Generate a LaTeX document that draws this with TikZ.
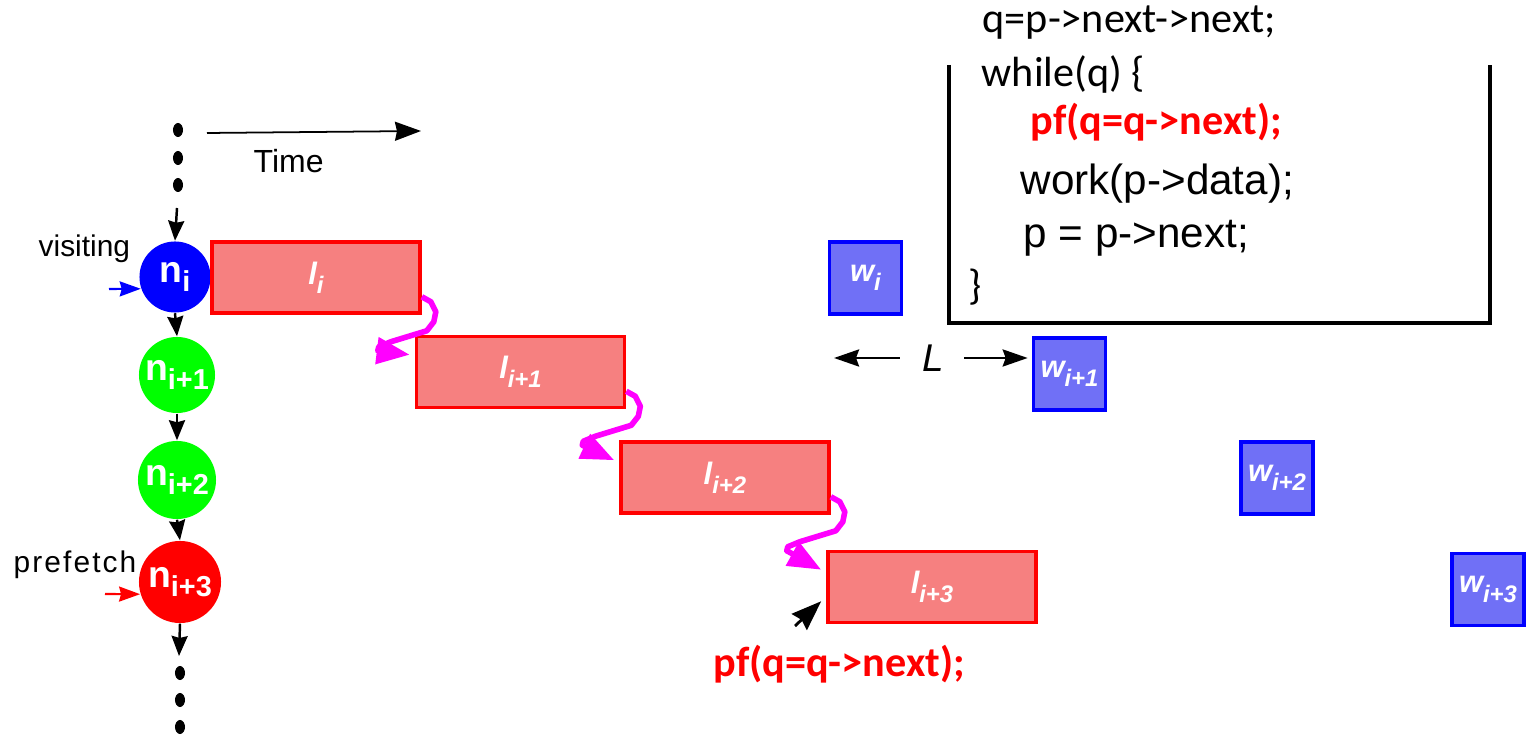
\documentclass[tikz,border=0pt]{standalone}
\usepackage{fontspec}
\setmainfont{Liberation Sans}
\newfontfamily\codefont{Carlito}
\newfontfamily\spacedfont[LetterSpace=7]{Liberation Sans}
\usetikzlibrary{arrows.meta,calc}

\definecolor{nodeblue}{RGB}{0,0,255}
\definecolor{nodegreen}{RGB}{0,255,0}
\definecolor{nodered}{RGB}{255,0,0}
\definecolor{loadfill}{RGB}{246,128,128}
\definecolor{workfill}{RGB}{112,112,246}
\definecolor{hopcolor}{RGB}{255,0,255}

% list node label: n with a lowered index
\newcommand\nodelabel[2]{\fontsize{10.6}{12}\selectfont\bfseries #1\raisebox{-0.25em}{\fontsize{8.2}{9}\selectfont #2}}
% load / work box label
\newcommand\boxlabel[2]{\fontsize{8.8}{10}\selectfont\bfseries\itshape #1\raisebox{-0.3em}{\fontsize{6.8}{8}\selectfont #2}}

\begin{document}
\begin{tikzpicture}[x=0.01cm,y=-0.01cm,
  listnode/.style={circle,inner sep=0pt,text=white},
  loadbox/.style={draw=red,fill=loadfill,line width=1pt,minimum width=2.08cm,minimum height=0.71cm,inner sep=0pt,text=white},
  workbox/.style={draw=blue,fill=workfill,line width=1pt,minimum width=0.72cm,minimum height=0.72cm,inner sep=0pt,text=white},
  nextarrow/.style={line width=0.7pt,-{Stealth[length=2mm,width=1.6mm,inset=0.2mm]}},
  timearrow/.style={line width=0.5pt,-{Stealth[length=2.6mm,width=1.9mm,inset=0.2mm]}},
  spanarrow/.style={line width=0.8pt,-{Stealth[length=2.5mm,width=1.7mm,inset=0.3mm]}},
  markarrow/.style={line width=0.6pt,-{Stealth[length=2.1mm,width=1.5mm,inset=0.2mm]}},
  hop/.style={draw=hopcolor,line width=1.6pt,line join=round,-{Triangle[length=3.3mm,width=2.6mm]}},
  codeline/.style={anchor=base west,inner sep=0pt,font=\codefont\fontsize{12}{14}\selectfont},
  plainline/.style={anchor=base west,inner sep=0pt,font=\fontsize{12}{14}\selectfont},
  smalltext/.style={anchor=base west,inner sep=0pt,font=\fontsize{8.5}{10}\selectfont},
  dot/.style={x radius=0.05cm,y radius=0.07cm}
]
\useasboundingbox (0,0) rectangle (1526,737);

% ---- linked list, top to bottom ----
\fill (178,130) ellipse [dot];
\fill (178,158) ellipse [dot];
\fill (178,185) ellipse [dot];
\coordinate (headin) at (177,208);

\node[listnode,fill=nodeblue,minimum size=0.71cm] (n0) at (175,277) {\nodelabel{n}{i}};
\node[listnode,fill=nodegreen,minimum size=0.76cm] (n1) at (177,375) {\nodelabel{n}{i+1}};
\node[listnode,fill=nodegreen,minimum size=0.78cm] (n2) at (177,480) {\nodelabel{n}{i+2}};
\node[listnode,fill=nodered,minimum size=0.82cm] (n3) at (180,582) {\nodelabel{n}{i+3}};

\coordinate (tailout) at (179,656);
\fill (180,673) ellipse [dot];
\fill (180,700) ellipse [dot];
\fill (180,727) ellipse [dot];

\draw[nextarrow] (headin) -- (n0.north);
\draw[nextarrow] (n0.south) -- (n1.north);
\draw[nextarrow] (n1.south) -- (n2.north);
\draw[nextarrow] (n2.south) -- (n3.north);
\draw[nextarrow] (n3.south) -- (tailout);

% ---- pointers ----
\node[smalltext] (visiting) at (38,257) {visiting};
\node[smalltext,font=\spacedfont\fontsize{8.5}{10}\selectfont] (prefetch) at (13,573) {prefetch};
\coordinate (visitptr) at (109,289);
\coordinate (prefptr) at (105,594);
\draw[markarrow,blue] (visitptr) -- (n0.199);
\draw[markarrow,red] (prefptr) -- (n3.197);

% ---- time axis ----
\coordinate (tstart) at (207,133);
\coordinate (tend) at (421,131);
\draw[timearrow] (tstart) -- (tend);
\node[anchor=base west,inner sep=0pt,font=\fontsize{9.1}{11}\selectfont] (time) at (253,173) {Time};

% ---- load latencies ----
\node[loadbox] (l0) at (316,277.5) {\boxlabel{l}{i}};
\node[loadbox] (l1) at (520.5,372) {\boxlabel{l}{i+1}};
\node[loadbox] (l2) at (725,477.5) {\boxlabel{l}{i+2}};
\node[loadbox] (l3) at (932,587) {\boxlabel{l}{i+3}};

% hand-over from one load to the next: a wiggle ending in a head
\foreach \a/\b in {l0/l1,l1/l2,l2/l3}{
  \draw[hop] ($(\a.south east)+(0,-18)$) -- ++(9,5) -- ++(5,10) -- ++(-2,10) -- ++(-7,9)
        -- ++(-36,11) -- ++(-12,5) -- ++(-1,4) -- ($(\b.north west)+(-5,20)$);
}

% ---- work per node ----
\node[workbox] (w0) at (865.5,278) {\boxlabel{w}{i}};
\node[workbox] (w1) at (1069.5,374) {\boxlabel{w}{i+1}};
\node[workbox] (w2) at (1277,478) {\boxlabel{w}{i+2}};
\node[workbox] (w3) at (1488,589.5) {\boxlabel{w}{i+3}};

% ---- distance L ----
\node[inner sep=0pt,font=\itshape\fontsize{11}{13}\selectfont] (L) at (933,358) {L};
\coordinate (Lleft) at (834,358);
\draw[spanarrow] ($(L.west)+(-22,0)$) -- (Lleft);
\draw[spanarrow] ($(L.east)+(20,0)$) -- ($(w1.west)+(-4,-16)$);

% ---- prefetch issue point ----
\node[anchor=base west,inner sep=0pt,text=red,font=\codefont\bfseries\fontsize{12}{14}\selectfont] (pfnote) at (713,677) {pf(q=q->next);};
\coordinate (pftail) at (795,626);
\draw[line width=0.8pt,-{Stealth[length=3mm,width=2.2mm,inset=0.3mm]}] (pftail) -- ($(l3.south west)+(-5,-23)$);

% ---- loop code ----
\draw[line width=1.15pt] (949,65) -- (949,323) -- (1490,323) -- (1490,65);
\node[codeline] (c1) at (982,33) {q=p->next->next;};
\node[codeline] (c2) at (981,87) {while(q) \{};
\node[codeline,text=red,font=\codefont\bfseries\fontsize{12}{14}\selectfont] (c3) at (1030,135) {pf(q=q->next);};
\node[plainline] (c4) at (1020,195) {work(p->data);};
\node[plainline] (c5) at (1023,248) {p = p->next;};
\node[codeline] (c6) at (968,300) {\}};
\end{tikzpicture}
\end{document}
